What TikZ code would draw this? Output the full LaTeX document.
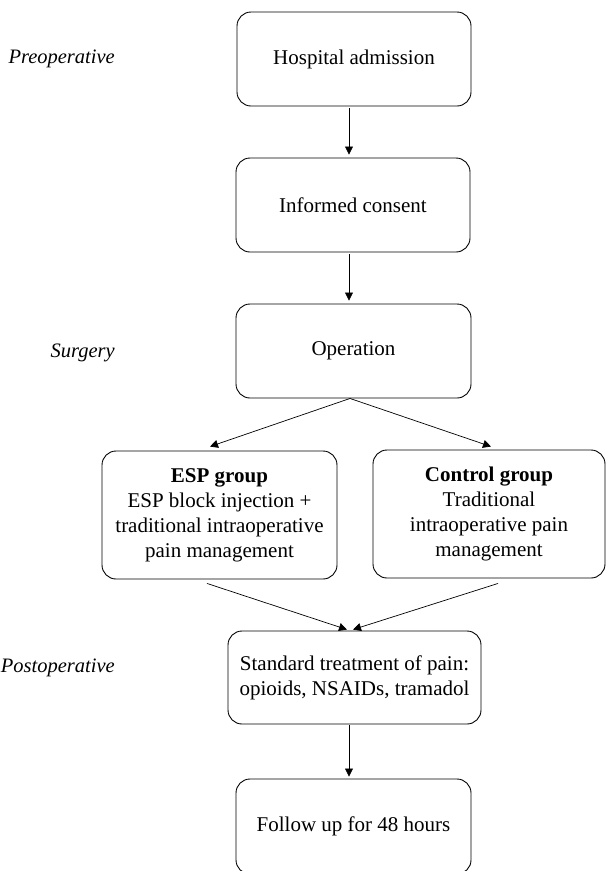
\documentclass[tikz,border=0pt]{standalone}
\usepackage{fontspec}
\setmainfont{Liberation Serif}
\usepackage{tikz}
\usetikzlibrary{arrows.meta}

\tikzset{
    stage/.style={draw, line width=0.9pt, rounded corners=14pt, align=center,
        inner sep=0pt, font=\fontsize{21}{25}\selectfont},
    phase/.style={anchor=base east, inner sep=0pt,
        font=\fontsize{20.5}{25}\selectfont\itshape},
    arr/.style={-{Triangle[length=8pt,width=8pt]}, line width=0.7pt}
}

\begin{document}
\begin{tikzpicture}[x=1pt,y=-1pt]

    \path[use as bounding box] (0,0) rectangle (606,871);

    % phases
    \node[phase] (pre)  at (115,63)  {Preoperative};
    \node[phase] (surg) at (115,357) {Surgery};
    \node[phase] (post) at (115,672) {Postoperative};

    % steps
    \node[stage, minimum width=234pt, minimum height=94pt]  (hosp)    at (354,59)    {Hospital admission};
    \node[stage, minimum width=234pt, minimum height=94pt]  (consent) at (353,205)   {Informed consent};
    \node[stage, minimum width=235pt, minimum height=94pt]  (oper)    at (353.5,351) {Operation};
    \node[stage, minimum width=235pt, minimum height=128pt] (esp)     at (219.5,515)
        {\textbf{ESP group}\\ESP block injection +\\traditional intraoperative\\pain management};
    \node[stage, minimum width=232pt, minimum height=128pt] (ctrl)    at (489,514)
        {\textbf{Control group}\\Traditional\\intraoperative pain\\management};
    \node[stage, minimum width=253pt, minimum height=93pt]  (std)     at (354.5,677.5)
        {Standard treatment of pain:\\opioids, NSAIDs, tramadol};
    \node[stage, minimum width=235pt, minimum height=95pt]  (follow)  at (353.5,826.5) {Follow up for 48 hours};

    % connectors
    \draw[arr] ([xshift=-5pt,yshift=-2pt]hosp.south) -- ([xshift=-4pt,yshift=3pt]consent.north);
    \draw[arr] ([xshift=-4pt,yshift=-2pt]consent.south) -- ([xshift=-4.5pt,yshift=3pt]oper.north);
    \draw[arr] ([xshift=-3.5pt]oper.south) -- ([xshift=-9.5pt,yshift=4pt]esp.north);
    \draw[arr] ([xshift=-3.5pt]oper.south) -- ([xshift=2pt,yshift=3pt]ctrl.north);
    \draw[arr] ([xshift=-12.5pt,yshift=-4pt]esp.south) -- ([xshift=-7.5pt,yshift=1pt]std.north);
    \draw[arr] ([xshift=9pt,yshift=-5pt]ctrl.south) -- ([xshift=-1.5pt,yshift=1pt]std.north);
    \draw[arr] ([xshift=-5.5pt,yshift=-1pt]std.south) -- ([xshift=-4.5pt,yshift=2pt]follow.north);

\end{tikzpicture}
\end{document}
